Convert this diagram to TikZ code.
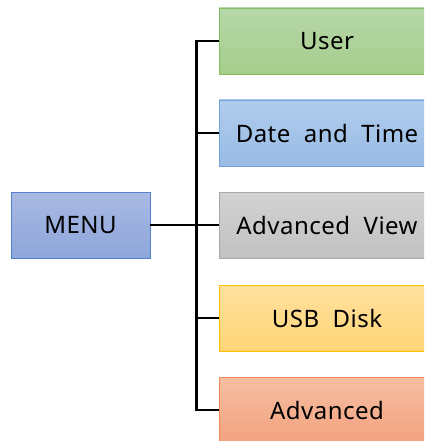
\documentclass[tikz,border=0pt]{standalone}
\usepackage{fontspec}
\setmainfont[LetterSpace=2]{Noto Sans}
\usepackage{tikz}
\usetikzlibrary{arrows.meta}
\definecolor{usertop}{HTML}{B7D8A9}
\definecolor{userbot}{HTML}{A6CD8C}
\definecolor{userline}{HTML}{84BD5F}
\definecolor{datetop}{HTML}{B0CCEC}
\definecolor{datebot}{HTML}{99BBE5}
\definecolor{dateline}{HTML}{6FA3D9}
\definecolor{viewtop}{HTML}{D2D2D2}
\definecolor{viewbot}{HTML}{C1C1C1}
\definecolor{viewline}{HTML}{A8A8A8}
\definecolor{usbtop}{HTML}{FFE09E}
\definecolor{usbbot}{HTML}{FFD577}
\definecolor{usbline}{HTML}{FFC000}
\definecolor{advtop}{HTML}{F6BEA2}
\definecolor{advbot}{HTML}{F3A27F}
\definecolor{advline}{HTML}{ED8B52}
\definecolor{menutop}{HTML}{A9B9E3}
\definecolor{menubot}{HTML}{8DA6DA}
\definecolor{menuline}{HTML}{5580CC}
\tikzset{
	boxitem/.style={rectangle, minimum width=216pt, minimum height=66pt, inner sep=0pt, line width=0.8pt, font=\fontsize{24}{29}\selectfont},
	menubox/.style={boxitem, minimum width=139pt},
	wire/.style={line width=2.6pt, black}
}

\begin{document}
\begin{tikzpicture}[x=1pt, y=-1pt]
				\clip (0,0) rectangle (424,441);
				\fill[white] (0,0) rectangle (424,441);
				\node[menubox, draw=menuline, top color=menutop, bottom color=menubot] (menu) at (80.5,225) {MENU};
				\node[boxitem, draw=userline, top color=usertop, bottom color=userbot] (user) at (327,41) {User};
				\node[boxitem, draw=dateline, top color=datetop, bottom color=datebot] (date) at (327,133) {Date\ \ and\ \ Time};
				\node[boxitem, draw=viewline, top color=viewtop, bottom color=viewbot] (view) at (327,225.5) {Advanced\ \ View};
				\node[boxitem, draw=usbline, top color=usbtop, bottom color=usbbot] (usb) at (327,318) {USB\ \ Disk};
				\node[boxitem, draw=advline, top color=advtop, bottom color=advbot] (adv) at (327,410) {Advanced};
				\draw[wire] (user.west) -- ++(-22,0) |- (adv.west);
				\draw[wire] (menu.east) -- (menu.east -| view.west);
				\draw[wire] (date.west) -- ++(-22,0);
				\draw[wire] (usb.west) -- ++(-22,0);
		\end{tikzpicture}
\end{document}
